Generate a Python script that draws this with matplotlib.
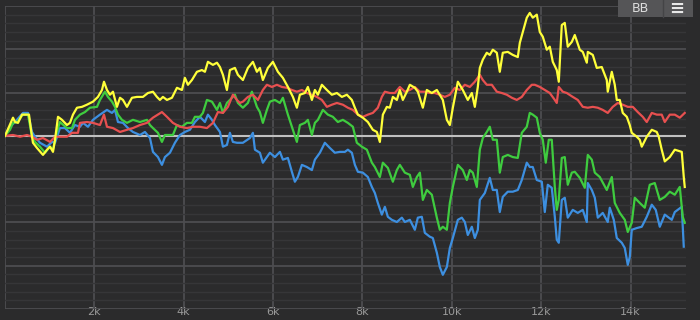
import matplotlib
matplotlib.use("Agg")
import matplotlib.pyplot as plt
from matplotlib.patches import Rectangle
from matplotlib.ticker import MultipleLocator, FixedLocator

# data (x = trade count, y = cumulative result)
yellow_x = [0, 179, 224, 291, 380, 537, 604, 626, 716, 850, 940, 1007, 1074, 1119, 1186, 1275, 1387, 1454,
            1521, 1611, 1722, 1834, 1969, 2080, 2170, 2215, 2282, 2349, 2416, 2505, 2573, 2640, 2729, 2841,
            2953, 3087, 3199, 3311, 3400, 3467, 3534, 3624, 3736, 3803, 3848, 3959, 4026, 4094, 4183, 4295,
            4407, 4474, 4541, 4653, 4743, 4810, 4877, 4966, 5033, 5145, 5212, 5324, 5436, 5548, 5637, 5704,
            5771, 5883, 5995, 6107, 6219, 6331, 6443, 6532, 6599, 6711, 6778, 6868, 6935, 7002, 7091, 7203,
            7315, 7427, 7539, 7651, 7762, 7830, 7897, 8008, 8120, 8232, 8322, 8389, 8456, 8545, 8612, 8680,
            8769, 8836, 8903, 8993, 9060, 9172, 9239, 9351, 9440, 9552, 9664, 9798, 9888, 9955, 10022, 10134,
            10245, 10357, 10447, 10514, 10581, 10626, 10693, 10782, 10849, 10917, 11006, 11073, 11140, 11252,
            11364, 11476, 11521, 11588, 11677, 11744, 11811, 11901, 11968, 12035, 12125, 12192, 12259, 12348,
            12393, 12460, 12527, 12594, 12684, 12751, 12863, 12930, 13020, 13042, 13154, 13243, 13355, 13467,
            13489, 13579, 13646, 13691, 13758, 13825, 13915, 13981, 14026, 14138, 14205, 14250, 14362, 14474,
            14586, 14630, 14697, 14765, 14877, 14989, 15145, 15190, 15212]
yellow_y = [0, 4.2, 3.2, 3.0, 4.9, 4.9, -0.2, -1.6, -2.8, -4.4, -3.2, -2.5, -3.7, -0.9, 4.4, 3.7, 2.5, 3.0,
            4.9, 6.5, 6.7, 7.2, 7.9, 9.0, 10.6, 12.5, 10.6, 9.5, 10.2, 6.7, 8.8, 8.3, 6.7, 8.8,
            9.0, 9.0, 9.9, 10.2, 9.0, 8.3, 9.0, 8.3, 8.8, 10.2, 11.1, 10.6, 13.4, 11.8, 12.9, 14.8,
            15.2, 14.8, 17.1, 16.4, 16.9, 15.9, 14.1, 10.6, 15.2, 15.7, 14.1, 12.9, 15.7, 17.1, 14.8, 15.7,
            12.9, 15.7, 17.1, 14.8, 13.4, 11.3, 9.0, 6.5, 9.5, 9.9, 11.3, 8.3, 10.6, 9.5, 11.8, 10.6,
            9.5, 9.9, 9.0, 9.5, 8.3, 6.5, 4.9, 4.2, 3.2, 1.4, 0.9, -1.4, 4.9, 6.7, 6.5, 9.0,
            8.3, 10.6, 8.3, 10.2, 11.8, 11.1, 10.2, 6.5, 10.6, 9.9, 10.6, 8.3, 3.7, 2.5, 6.5, 12.5,
            10.6, 8.3, 9.9, 6.7, 11.3, 15.7, 17.6, 19.2, 18.7, 19.9, 19.2, 14.8, 19.2, 19.4,
            18.7, 18.2, 21.5, 24.0, 27.3, 28.4, 27.3, 28.0, 24.0, 22.9, 19.9, 20.6, 17.1, 15.2,
            12.5, 25.6, 26.1, 20.6, 21.7, 23.3, 19.9, 19.4, 16.9, 19.4, 18.7, 15.7, 15.9, 12.9,
            10.2, 14.8, 11.8, 8.3, 8.3, 5.3, 4.4, 2.5, 0.7, -0.2, -0.9, -2.5, -0.2, 1.4,
            0.9, -0.2, -3.2, -5.9, -4.9, -3.2, -3.7, -9.5, -11.8]

red_x = [0, 179, 336, 492, 604, 716, 850, 1007, 1119, 1230, 1387, 1499, 1633, 1678, 1834, 1969, 2125, 2215,
         2282, 2416, 2573, 2729, 2863, 3020, 3177, 3311, 3512, 3624, 3758, 3915, 4071, 4206, 4362, 4519,
         4653, 4765, 4877, 4989, 5100, 5190, 5257, 5324, 5436, 5548, 5660, 5771, 5861, 5973, 6085, 6196,
         6308, 6420, 6532, 6644, 6756, 6868, 6979, 7091, 7203, 7315, 7427, 7561, 7673, 7785, 7897, 8008,
         8120, 8232, 8344, 8433, 8501, 8612, 8724, 8836, 8948, 9060, 9172, 9284, 9395, 9507, 9619, 9731,
         9843, 9955, 10067, 10178, 10290, 10402, 10514, 10626, 10693, 10782, 10894, 11006, 11118, 11230,
         11342, 11453, 11565, 11677, 11789, 11856, 11968, 12080, 12192, 12304, 12348, 12393, 12482, 12572,
         12706, 12818, 12930, 13042, 13154, 13266, 13377, 13489, 13601, 13713, 13825, 13937, 14049, 14160,
         14272, 14362, 14474, 14586, 14697, 14765, 14877, 14989, 15101, 15212]
red_y = [0, 0.2, -0.2, 0.2, -0.2, -0.9, -0.5, -1.4, -0.2, -0.2, -0.2, 0.7, 0.7, 3.0, 3.2, 3.0, 2.5, 4.9,
         2.1, 1.8, 0.9, 1.4, 1.8, 2.5, 3.0, 4.2, 5.5, 4.4, 3.0, 2.1, 1.8, 2.1, 2.1, 1.8,
         3.0, 5.5, 5.3, 6.7, 9.5, 8.3, 7.6, 7.9, 9.0, 9.5, 8.3, 10.6, 11.8, 11.3, 11.8, 11.3,
         11.1, 10.6, 10.2, 10.6, 9.9, 9.5, 9.0, 8.3, 6.7, 7.2, 7.6, 7.2, 6.5, 6.0, 4.9, 4.4,
         4.9, 5.3, 6.5, 9.0, 10.2, 9.9, 9.9, 11.3, 10.2, 10.6, 11.3, 10.2, 10.2, 9.9, 9.9, 9.5,
         9.0, 9.5, 11.1, 10.6, 11.8, 11.3, 12.5, 14.1, 12.9, 11.8, 11.8, 10.2, 9.9, 9.5,
         8.8, 8.3, 9.0, 10.6, 11.8, 11.8, 11.3, 10.6, 9.9, 8.3, 7.6, 11.3, 10.2, 9.9,
         9.0, 8.3, 6.7, 6.5, 6.7, 6.5, 6.0, 5.3, 6.7, 7.6, 7.2, 6.7, 6.7, 5.5,
         4.4, 3.2, 5.3, 4.9, 4.9, 3.2, 4.9, 4.9, 4.2, 5.3]

green_x = [0, 112, 179, 268, 403, 515, 604, 671, 783, 895, 1007, 1074, 1163, 1230, 1387, 1499, 1566, 1678,
           1790, 1901, 2058, 2125, 2237, 2304, 2394, 2461, 2528, 2617, 2729, 2863, 3020, 3177, 3244, 3311,
           3423, 3512, 3579, 3691, 3758, 3848, 3959, 4071, 4183, 4250, 4362, 4429, 4519, 4631, 4743, 4810,
           4877, 4966, 5033, 5145, 5212, 5324, 5436, 5525, 5637, 5704, 5771, 5861, 5928, 6040, 6152, 6219,
           6331, 6443, 6532, 6599, 6711, 6778, 6868, 6935, 7002, 7114, 7226, 7337, 7449, 7561, 7673, 7785,
           7874, 7986, 8098, 8210, 8277, 8389, 8456, 8568, 8680, 8769, 8836, 8948, 9060, 9127, 9217, 9284,
           9351, 9440, 9552, 9664, 9731, 9798, 9888, 9955, 10022, 10134, 10245, 10335, 10402, 10469, 10559,
           10626, 10693, 10782, 10849, 10917, 11006, 11073, 11140, 11252, 11364, 11476, 11565, 11677, 11744,
           11811, 11901, 11968, 12035, 12102, 12169, 12236, 12304, 12348, 12393, 12460, 12527, 12594, 12684,
           12751, 12863, 12975, 13042, 13132, 13199, 13310, 13467, 13579, 13646, 13758, 13870, 13937, 14026,
           14093, 14205, 14317, 14429, 14541, 14653, 14765, 14877, 14989, 15101, 15167, 15212]
green_y = [0, 1.4, 3.0, 3.2, 4.9, 4.9, -0.2, -1.4, -2.5, -3.9, -2.5, -3.2, 0.9, 3.2, 1.8, 1.8, 3.7, 4.9,
           5.5, 6.5, 6.7, 8.3, 10.2, 9.0, 7.9, 6.7, 4.9, 3.7, 3.0, 3.7, 3.2, 3.7, 2.5, 1.8,
           0.7, -1.4, 0.2, 0.2, 0.2, 2.5, 2.1, 3.0, 3.0, 4.4, 4.4, 5.3, 8.3, 7.9, 6.0, 7.6,
           5.3, 7.6, 8.3, 9.5, 7.6, 6.5, 7.6, 10.2, 6.7, 5.5, 3.0, 6.0, 7.9, 8.3, 7.6, 8.8,
           4.9, 1.4, -1.4, 2.5, 3.0, 3.7, 0.2, 3.0, 3.7, 6.0, 4.9, 4.4, 3.2, 3.7, 3.0, 2.1,
           -1.6, -2.5, -3.2, -6.2, -7.2, -9.5, -6.2, -7.4, -10.6, -7.9, -6.7, -8.5, -9.0, -11.8, -9.5, -8.5,
           -14.8, -12.5, -13.6, -18.9, -21.7, -21.0, -21.7, -15.5, -11.8, -6.7, -7.9, -10.2, -7.9, -8.5, -11.8,
           -3.2, -0.5, 0.9, 2.1, -0.9, -0.9, -8.5, -4.9, -4.4, -4.9, -5.1, 0.7, 2.1, 5.3,
           4.9, 4.2, 0.7, -0.9, -6.2, -0.9, -0.9, -11.8, -17.1, -14.8, -5.1, -4.9, -11.3, -8.5,
           -8.3, -9.7, -12.0, -4.4, -5.5, -8.5, -9.5, -12.5, -9.5, -15.5, -17.8, -19.4, -22.2, -20.1,
           -14.3, -15.5, -16.6, -11.3, -10.9, -14.8, -14.1, -12.9, -13.6, -11.8, -18.7, -20.1]

blue_x = [0, 112, 224, 403, 515, 604, 671, 783, 940, 1051, 1119, 1230, 1342, 1454, 1566, 1678, 1745, 1857,
          1969, 2125, 2282, 2394, 2461, 2528, 2640, 2752, 2863, 3020, 3132, 3244, 3311, 3423, 3512, 3579,
          3691, 3803, 3915, 4026, 4138, 4250, 4362, 4474, 4541, 4631, 4698, 4810, 4877, 4966, 5033, 5100,
          5190, 5324, 5481, 5548, 5593, 5704, 5771, 5861, 5928, 6040, 6152, 6219, 6331, 6420, 6487, 6554,
          6644, 6756, 6868, 6935, 7047, 7158, 7270, 7382, 7494, 7606, 7673, 7762, 7830, 7897, 8008, 8120,
          8210, 8277, 8344, 8433, 8501, 8568, 8657, 8769, 8881, 8948, 9060, 9172, 9239, 9328, 9395, 9507,
          9574, 9664, 9731, 9798, 9888, 9955, 10022, 10134, 10223, 10290, 10357, 10447, 10514, 10581, 10626,
          10738, 10849, 10917, 11006, 11073, 11140, 11252, 11364, 11476, 11565, 11677, 11744, 11811, 11901,
          12013, 12080, 12147, 12236, 12304, 12348, 12393, 12460, 12527, 12594, 12706, 12818, 12930, 13020,
          13042, 13132, 13199, 13266, 13377, 13489, 13534, 13624, 13691, 13803, 13870, 13937, 13982, 14026,
          14138, 14250, 14362, 14474, 14563, 14653, 14765, 14922, 14989, 15145, 15190]
blue_y = [0, 2.1, 3.2, 5.3, 5.3, 0.9, -0.2, -1.6, -2.5, -1.4, -1.6, 1.8, 1.8, 0.7, 2.5, 2.1, 3.0, 2.1,
          3.7, 4.9, 6.0, 5.3, 6.0, 3.2, 3.0, 1.8, 0.9, 0.2, 0.9, -0.5, -3.7, -4.9, -6.7, -4.9,
          -3.9, -1.6, 0.2, 0.9, 1.4, 3.2, 4.4, 3.2, 4.9, 3.7, 2.5, 0.9, -2.5, -2.1, 0.7, -1.4,
          -1.6, -1.6, -0.5, 0.7, -3.2, -3.9, -6.2, -4.9, -3.9, -4.9, -3.7, -5.5, -5.1, -8.3, -10.6, -9.5,
          -6.7, -7.2, -7.9, -5.5, -3.9, -1.6, -2.8, -3.9, -3.7, -3.7, -3.2, -3.9, -6.7, -8.3, -8.5, -9.5,
          -11.8, -13.2, -15.5, -18.2, -16.4, -18.7, -19.4, -19.9, -18.9, -19.9, -19.4, -21.7, -18.9, -18.7, -22.4, -23.3,
          -23.6, -27.0, -30.3, -32.1, -30.3, -25.9, -23.6, -19.4, -18.9, -19.9, -22.9, -21.0, -23.6, -21.7, -14.8,
          -13.2, -9.7, -12.5, -12.5, -17.6, -14.1, -12.9, -12.9, -12.5, -10.2, -6.2, -7.2, -7.2, -10.2,
          -10.6, -17.6, -11.3, -12.0, -18.7, -24.0, -24.7, -14.8, -14.3, -18.9, -17.1, -17.8, -17.1, -19.9,
          -10.9, -12.5, -14.3, -18.9, -17.8, -19.9, -16.6, -19.4, -23.6, -24.7, -25.9, -29.8, -28.0, -21.7,
          -21.3, -21.0, -18.7, -15.9, -17.1, -21.0, -18.2, -19.4, -17.6, -16.4, -25.6]

x_ticks = [2000, 4000, 6000, 8000, 10000, 12000, 14000]
x_labels = ['2k', '4k', '6k', '8k', '10k', '12k', '14k']

BG = '#2b2b2c'

fig = plt.figure(figsize=(7, 3.2), dpi=100, facecolor=BG)
ax = fig.add_axes([5 / 700, 11 / 320, 681 / 700, 303 / 320], facecolor=BG)

ax.set_xlim(0, 15240)
ax.set_ylim(-40, 30)

ax.yaxis.set_major_locator(MultipleLocator(10))
ax.yaxis.set_minor_locator(MultipleLocator(2))
ax.xaxis.set_major_locator(FixedLocator([0] + x_ticks))
ax.set_xticklabels([''] + x_labels)
ax.grid(which='major', axis='y', color='#4d4d50', lw=1.3)
ax.grid(which='minor', axis='y', color='#363638', lw=1)
ax.grid(which='major', axis='x', color='#4d4d50', lw=1.3)
ax.set_axisbelow(True)
ax.tick_params(axis='y', which='both', left=False, labelleft=False)
ax.tick_params(axis='x', which='both', length=0, colors='#9a9a9a', labelsize=8, pad=-1.5)
for s in ax.spines.values():
    s.set_visible(False)

ax.axhline(0, color='#c0c0c0', lw=1.5, zorder=1.5)

ax.plot(blue_x, blue_y, color='#3d8fe0', lw=1.6, zorder=2)
ax.plot(green_x, green_y, color='#3fcc3f', lw=1.6, zorder=3)
ax.plot(red_x, red_y, color='#e85050', lw=1.6, zorder=4)
ax.plot(yellow_x, yellow_y, color='#ffff3a', lw=1.6, zorder=5)

# buttons top right
fig.patches.append(Rectangle((618 / 700, 303 / 320), 75 / 700, 17 / 320, transform=fig.transFigure,
                             facecolor='#555557', edgecolor='none', zorder=10))
fig.add_artist(plt.Line2D([663 / 700, 663 / 700], [303 / 320, 1], transform=fig.transFigure,
                          color='#444446', lw=1, zorder=11))
fig.text(640 / 700, 311 / 320, 'BB', color='#dddddd', fontsize=9, ha='center', va='center', zorder=12)
fig.text(677 / 700, 311 / 320, '\u2261', color='#e8e8e8', fontsize=13, ha='center', va='center',
         zorder=12, fontweight='bold')

fig.savefig('out.png', dpi=100, facecolor=BG)
